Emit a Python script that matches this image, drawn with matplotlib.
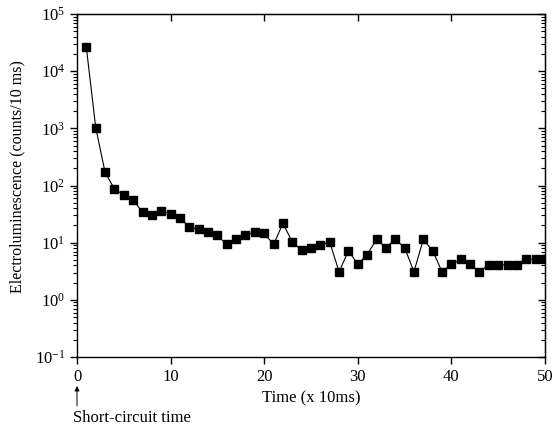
import numpy as np
import matplotlib
matplotlib.use("Agg")
import matplotlib.pyplot as plt
from matplotlib.ticker import LogLocator, NullFormatter, NullLocator

# time bins (x 10 ms) and electroluminescence counts per 10 ms
time_bins = list(range(1, 51))
counts = [26000, 1030, 170, 87, 68, 56, 34, 30, 36, 32,
          27, 18.5, 17.5, 15.5, 13.4, 9.3, 11.4, 13.4, 15.5, 14.5,
          9.3, 21.7, 10.3, 7.3, 8.2, 9.2, 10.2, 3.1, 7.2, 4.2,
          6.2, 11.4, 8.2, 11.4, 8.2, 3.1, 11.4, 7.2, 3.1, 4.2,
          5.1, 4.2, 3.1, 4.1, 4.1, 4.1, 4.1, 5.1, 5.1, 5.1]
x_ticks = [0, 10, 20, 30, 40, 50]
y_decades = [1e-1, 1e0, 1e1, 1e2, 1e3, 1e4, 1e5]
y_labels = [r"$\mathregular{10^{-1}}$", r"$\mathregular{10^{0}}$",
            r"$\mathregular{10^{1}}$", r"$\mathregular{10^{2}}$",
            r"$\mathregular{10^{3}}$", r"$\mathregular{10^{4}}$",
            r"$\mathregular{10^{5}}$"]

plt.rcParams["font.family"] = ["Liberation Serif", "DejaVu Serif"]
plt.rcParams["mathtext.fontset"] = "custom"
plt.rcParams["mathtext.rm"] = "Liberation Serif"

fig = plt.figure(figsize=(5.56, 4.29), dpi=100)
ax = fig.add_axes([77 / 556, 1 - 357 / 429, 468 / 556, 343 / 429])

ax.plot(time_bins, counts, color="black", lw=0.8, marker="s",
        markersize=5.6, markerfacecolor="black", markeredgecolor="black")

ax.set_yscale("log")
ax.set_xlim(0, 50)
ax.set_ylim(1e-1, 1e5)
ax.set_xticks(x_ticks)
ax.xaxis.set_minor_locator(NullLocator())
ax.set_yticks(y_decades)
ax.set_yticklabels(y_labels)
ax.yaxis.set_minor_locator(LogLocator(base=10, subs=np.arange(2, 10), numticks=20))
ax.yaxis.set_minor_formatter(NullFormatter())

for s in ax.spines.values():
    s.set_linewidth(1.0)

ax.tick_params(axis="both", which="major", direction="out", length=5, width=1.0,
               labelsize=12, top=False, right=False)
ax.tick_params(axis="y", which="minor", direction="out", length=3, width=0.8,
               right=False)

# top and right axes with inward ticks
top = ax.secondary_xaxis("top")
top.set_xticks(x_ticks)
top.tick_params(direction="in", length=5, width=1.0, labeltop=False)
right = ax.secondary_yaxis("right")
right.set_yticks(y_decades)
right.yaxis.set_minor_locator(LogLocator(base=10, subs=np.arange(2, 10), numticks=20))
right.yaxis.set_minor_formatter(NullFormatter())
right.tick_params(which="major", direction="in", length=5, width=1.0, labelright=False)
right.tick_params(which="minor", direction="in", length=3, width=0.8, labelright=False)

ax.set_xlabel("Time (x 10ms)", fontsize=12, labelpad=4)
ax.set_ylabel("Electroluminescence (counts/10 ms)", fontsize=11.5)
ax.yaxis.set_label_coords(-0.111, 0.525)

ax.annotate("", xy=(0, 1 - 386 / 429), xytext=(0, 1 - 406 / 429),
            xycoords=("data", "figure fraction"),
            textcoords=("data", "figure fraction"),
            arrowprops=dict(arrowstyle="-|>", color="black", lw=0.7,
                            mutation_scale=7, shrinkA=0, shrinkB=0),
            annotation_clip=False)
fig.text(73 / 556, 1 - 422 / 429, "Short-circuit time", fontsize=12,
         ha="left", va="baseline")

fig.savefig("out.png", dpi=100)
